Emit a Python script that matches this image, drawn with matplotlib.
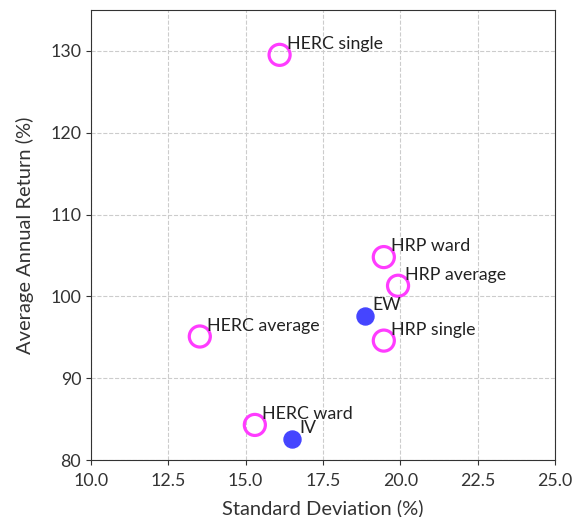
import matplotlib
matplotlib.use("Agg")
import matplotlib.pyplot as plt

plt.rcParams['font.family'] = ['Lato', 'DejaVu Sans']

# hierarchical methods (open markers)
hier_names = ['HERC single', 'HRP ward', 'HRP average', 'HRP single', 'HERC average', 'HERC ward']
hier_std = [16.1, 19.47, 19.93, 19.47, 13.52, 15.3]
hier_ret = [129.5, 104.8, 101.3, 94.6, 95.1, 84.3]

# benchmarks (filled markers)
bench_names = ['EW', 'IV']
bench_std = [18.86, 16.5]
bench_ret = [97.6, 82.6]

fig, ax = plt.subplots(figsize=(5.72, 5.17), dpi=100)
fig.subplots_adjust(left=0.159, right=0.970, top=0.981, bottom=0.110)

ax.scatter(hier_std, hier_ret, s=230, facecolors='none', edgecolors='#ff3cff', linewidths=2.3, zorder=3)
ax.scatter(bench_std, bench_ret, s=150, color='#4545ff', zorder=3)

for n, x, y in zip(hier_names + bench_names, hier_std + bench_std, hier_ret + bench_ret):
    ax.annotate(n, (x, y), xytext=(7, 6), textcoords='offset pixels', fontsize=12.8, color='#222222')

ax.set_xlim(10, 25)
ax.set_ylim(80, 135)
ax.set_xticks([10, 12.5, 15, 17.5, 20, 22.5, 25])
ax.set_yticks([80, 90, 100, 110, 120, 130])
ax.grid(True, linestyle='--', color='#cccccc', linewidth=0.8)
ax.set_axisbelow(True)
ax.tick_params(labelsize=12.8, colors='#333333')
ax.tick_params(axis='x', pad=6)
for s in ax.spines.values():
    s.set_color('#333333')
ax.set_xlabel('Standard Deviation (%)', fontsize=14.5, color='#333333', labelpad=7)
ax.set_ylabel('Average Annual Return (%)', fontsize=14.5, color='#333333', labelpad=12)

fig.savefig('out.png', dpi=100)
